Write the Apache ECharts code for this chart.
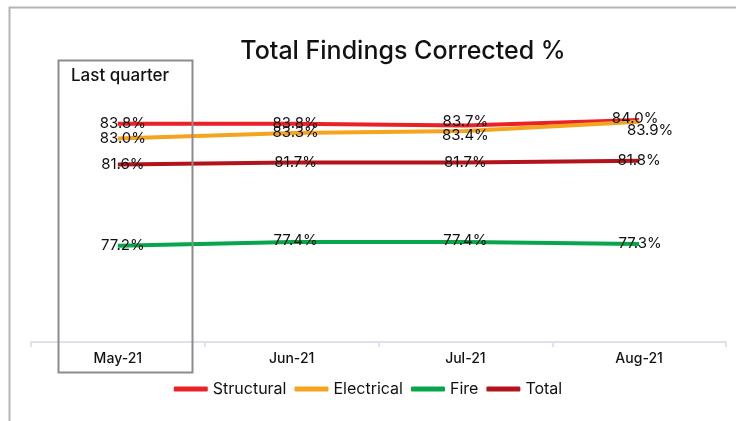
<!DOCTYPE html>
<html style="height: 100%">
<head>
    <meta charset="utf-8">
    <title>Total Findings Corrected %</title>
    <script src="https://cdn.jsdelivr.net/npm/echarts@6/dist/echarts.min.js"></script>
</head>
<body style="height: 100%; margin: 0; background: #fff">
<div id="main" style="width: 736px; height: 421px"></div>

<script type="text/javascript">
    // data
    var months = ['May-21', 'Jun-21', 'Jul-21', 'Aug-21'];
    var structural = [83.8, 83.8, 83.7, 84.0];
    var electrical = [83.0, 83.3, 83.4, 83.9];
    var fire = [77.2, 77.4, 77.4, 77.3];
    var total = [81.6, 81.7, 81.7, 81.8];

    var font = 'Inter, "Noto Sans", sans-serif';

    function pct(p) {
        return p.value.toFixed(1) + '%';
    }

    // label offsets per point, to mimic where the original put them
    function lbl(values, offsets) {
        return values.map(function (v, i) {
            return {
                value: v,
                label: { offset: offsets[i] }
            };
        });
    }

    function line(name, color, data, offsets) {
        return {
            name: name,
            type: 'line',
            data: lbl(data, offsets),
            symbol: 'circle',
            symbolSize: 0.1,
            lineStyle: { color: color, width: 4 },
            itemStyle: { color: color },
            label: {
                show: true,
                position: 'inside',
                formatter: pct,
                color: '#111',
                fontFamily: font,
                fontSize: 15
            },
            z: 3
        };
    }

    var myChart = echarts.init(document.getElementById('main'));

    var option = {
        backgroundColor: '#fff',
        animation: false,
        title: {
            text: 'Total Findings Corrected %',
            left: 398,
            textAlign: 'center',
            top: 34,
            textStyle: { fontFamily: font, fontSize: 25, fontWeight: 500, color: '#111' }
        },
        legend: {
            bottom: 19,
            left: 'center',
            itemWidth: 34,
            itemHeight: 5,
            itemGap: 8,
            icon: 'roundRect',
            textStyle: { fontFamily: font, fontSize: 16, color: '#111' },
            data: ['Structural', 'Electrical', 'Fire', 'Total']
        },
        grid: { left: 31, right: 10, top: 83, bottom: 79 },
        xAxis: {
            type: 'category',
            data: months,
            boundaryGap: true,
            axisLine: { lineStyle: { color: '#dde1ea', width: 2 } },
            axisTick: { show: true, length: 5, lineStyle: { color: '#dde1ea', width: 2 } },
            axisLabel: { color: '#111', fontFamily: font, fontSize: 14, fontWeight: 500, margin: 10 }
        },
        yAxis: {
            type: 'value',
            min: 72,
            max: 86,
            interval: 2,
            show: false,
            splitLine: { show: false }
        },
        series: [
            line('Structural', '#ea2127', structural, [[5, 0], [4, 0], [0, -4], [-4, -2]]),
            line('Electrical', '#f5a41e', electrical, [[5, 0], [4, 0], [0, 4], [11, 9]]),
            line('Fire', '#07a64c', fire, [[5, 0], [4, -2], [0, -2], [1, 0]]),
            line('Total', '#b3141c', total, [[5, 0], [4, 0], [0, 0], [0, 0]])
        ],
        graphic: [
            {
                type: 'rect',
                left: 7,
                top: 5,
                shape: { width: 760, height: 440 },
                style: { fill: null, stroke: '#b5b5b5', lineWidth: 2 },
                silent: true
            },
            {
                type: 'rect',
                left: 56,
                top: 58,
                shape: { width: 134, height: 312 },
                style: { fill: null, stroke: '#8c8c8c', lineWidth: 2 },
                z: 10,
                silent: true
            },
            {
                type: 'text',
                left: 71,
                top: 67,
                style: { text: 'Last quarter', fill: '#111', font: '500 17px ' + font },
                z: 10
            }
        ]
    };
    myChart.setOption(option, true);
</script>
</body>
</html>
